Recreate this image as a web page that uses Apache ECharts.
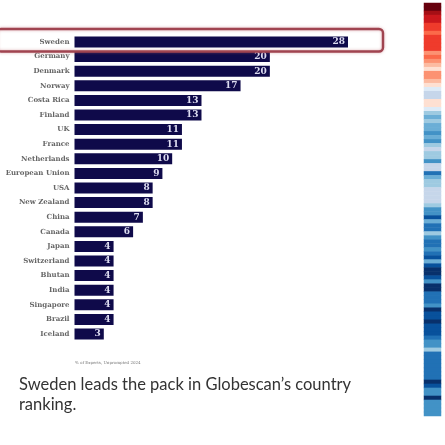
<!DOCTYPE html>
<html>
<head>
<meta charset="utf-8">
<script src="https://cdn.jsdelivr.net/npm/echarts@6/dist/echarts.min.js"></script>
<style>
  html, body { margin: 0; padding: 0; background: #fff; }
  #main { width: 445px; height: 445px; }
</style>
</head>
<body>
<div id="main"></div>
<script>
var countries = ["Sweden", "Germany", "Denmark", "Norway", "Costa Rica", "Finland", "UK", "France",
  "Netherlands", "European Union", "USA", "New Zealand", "China", "Canada", "Japan", "Switzerland",
  "Bhutan", "India", "Singapore", "Brazil", "Iceland"];
var percentExperts = [28, 20, 20, 17, 13, 13, 11, 11, 10, 9, 8, 8, 7, 6, 4, 4, 4, 4, 4, 4, 3];

// warming stripes, top to bottom, as a level on the blue (0) to red (15) scale
var stripeLevels = [15, 15, 14, 13, 13, 12, 12, 11, 12, 12, 12, 12, 10, 11, 10, 9, 8, 10, 10, 9, 8, 7, 6, 6, 8, 8, 7,
  5, 4, 5, 4, 4, 3, 4, 3, 5, 6,
  5, 5, 3, 6, 6, 2, 4, 5, 5, 6, 6, 6, 6, 5, 3, 3, 1, 4, 2, 2, 5, 3, 2, 2, 3, 2, 1, 4, 1, 0, 0, 1, 3, 0, 0, 2, 2, 2,
  3, 0, 1, 1, 0, 1, 1, 1, 2, 3, 3, 5, 2, 2, 2, 2, 2, 2, 2, 0, 1, 3, 3, 0, 3, 3, 3, 3];
var stripeColors = ["#08306b", "#08519c", "#2171b5", "#4292c6", "#6baed6", "#9ecae1", "#c6d6ea", "#deebf7",
  "#fee0d2", "#fcbba1", "#fc9272", "#fb6a4a", "#ef3b2c", "#cb181d", "#a50f15", "#67000d"];

var sourceNote = "% of Experts, Unprompted 2024";
var captionLines = ["Sweden leads the pack in Globescan\u2019s country", "ranking."];

var myChart = echarts.init(document.getElementById("main"));

var option = {
  animation: false,
  backgroundColor: "#fff",
  grid: [
    { left: 74.5, top: 34.7, width: 273.5, height: 306.6 },
    { left: 424, top: 3, width: 17, height: 413 }
  ],
  xAxis: [
    { type: "value", gridIndex: 0, min: 0, max: 28, show: false },
    { type: "category", gridIndex: 1, data: ["stripes"], show: false }
  ],
  yAxis: [
    {
      type: "category",
      gridIndex: 0,
      inverse: true,
      data: countries,
      axisLine: { show: false },
      axisTick: { show: false },
      axisLabel: {
        margin: 5,
        fontFamily: "DejaVu Serif",
        fontWeight: "bold",
        fontSize: 7,
        color: "#666"
      }
    },
    {
      type: "category",
      gridIndex: 1,
      inverse: true,
      data: stripeLevels.map(function (v, i) { return i; }),
      show: false
    }
  ],
  visualMap: {
    show: false,
    seriesIndex: 1,
    min: 0,
    max: 15,
    inRange: { color: stripeColors }
  },
  series: [
    {
      type: "bar",
      xAxisIndex: 0,
      yAxisIndex: 0,
      data: percentExperts,
      barWidth: 11,
      itemStyle: { color: "#0f0a4a" },
      label: {
        show: true,
        position: "insideRight",
        distance: 3,
        color: "#dcdcf0",
        fontFamily: "DejaVu Serif",
        fontWeight: "bold",
        fontSize: 9
      }
    },
    {
      type: "heatmap",
      xAxisIndex: 1,
      yAxisIndex: 1,
      data: stripeLevels.map(function (v, i) { return [0, i, v]; })
    }
  ],
  graphic: [
    {
      type: "rect",
      z: 100,
      shape: { x: -3, y: 29, width: 386, height: 22.5, r: 4 },
      style: { fill: "transparent", stroke: "#a04450", lineWidth: 2.4, shadowBlur: 3, shadowColor: "rgba(190,90,100,0.5)" }
    },
    {
      type: "text",
      left: 75,
      top: 361,
      style: { text: sourceNote, fontFamily: "DejaVu Serif", fontSize: 4, fill: "#777" }
    },
    {
      type: "text",
      left: 19,
      top: 376,
      style: { text: captionLines[0], fontFamily: "Lato", fontSize: 16.5, fill: "#333" }
    },
    {
      type: "text",
      left: 19,
      top: 396,
      style: { text: captionLines[1], fontFamily: "Lato", fontSize: 16.5, fill: "#333" }
    }
  ]
};

myChart.setOption(option);
</script>
</body>
</html>
